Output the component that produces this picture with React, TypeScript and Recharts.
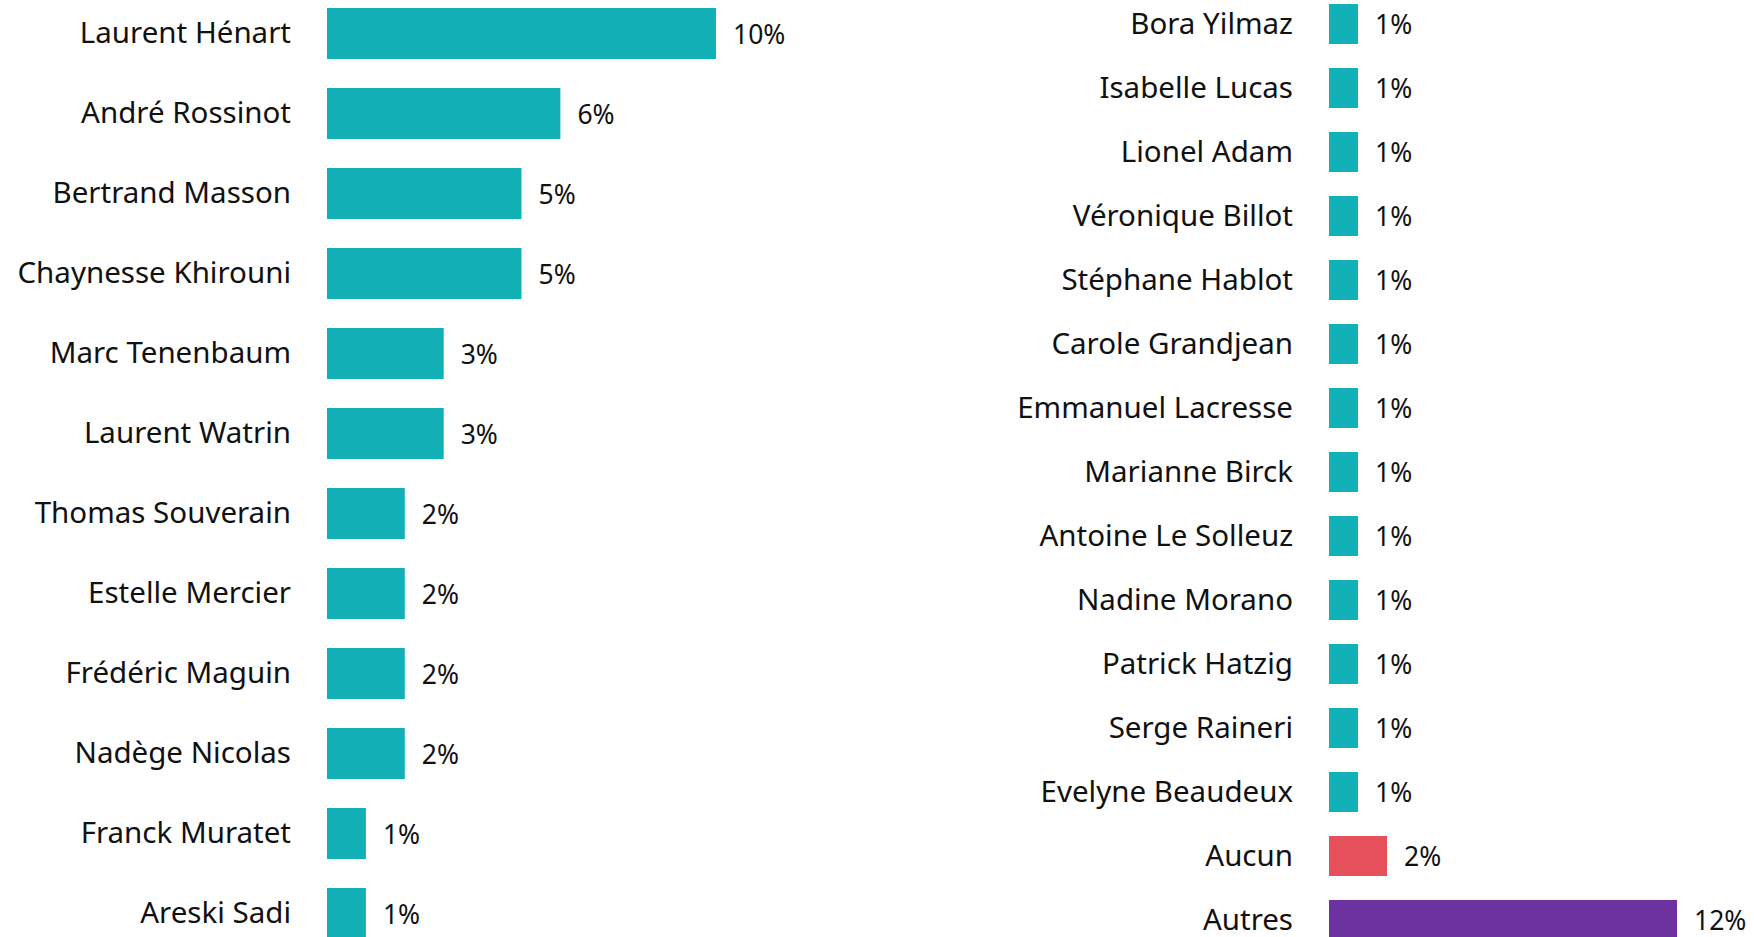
import React from 'react';
import { BarChart, Bar, XAxis, YAxis, LabelList, Cell } from 'recharts';

// Candidats (colonne de gauche)
const leftNames = [
  'Laurent Hénart',
  'André Rossinot',
  'Bertrand Masson',
  'Chaynesse Khirouni',
  'Marc Tenenbaum',
  'Laurent Watrin',
  'Thomas Souverain',
  'Estelle Mercier',
  'Frédéric Maguin',
  'Nadège Nicolas',
  'Franck Muratet',
  'Areski Sadi'
];
const leftValues = [10, 6, 5, 5, 3, 3, 2, 2, 2, 2, 1, 1];

// Candidats (colonne de droite)
const rightNames = [
  'Bora Yilmaz',
  'Isabelle Lucas',
  'Lionel Adam',
  'Véronique Billot',
  'Stéphane Hablot',
  'Carole Grandjean',
  'Emmanuel Lacresse',
  'Marianne Birck',
  'Antoine Le Solleuz',
  'Nadine Morano',
  'Patrick Hatzig',
  'Serge Raineri',
  'Evelyne Beaudeux',
  'Aucun',
  'Autres'
];
const rightValues = [1, 1, 1, 1, 1, 1, 1, 1, 1, 1, 1, 1, 1, 2, 12];

const TEAL = '#13B0B7';
const SPECIAL_COLORS: Record<string, string> = {
  Aucun: '#E6505A',
  Autres: '#6E31A0'
};

const FONT = '"Segoe UI", "Noto Sans", sans-serif';
const tickStyle = { fontSize: 29.5, fill: '#111', fontFamily: FONT };

const leftData = leftNames.map((name, i) => ({ name, value: leftValues[i] }));
const rightData = rightNames.map((name, i) => ({ name, value: rightValues[i] }));

interface PanelProps {
  data: { name: string; value: number }[];
  width: number;
  axisWidth: number;
  maxValue: number;
  barSize: number;
  rightMargin: number;
}

const Panel: React.FC<PanelProps> = ({ data, width, axisWidth, maxValue, barSize, rightMargin }) => (
  <BarChart
    width={width}
    height={960}
    data={data}
    layout="vertical"
    margin={{ top: 0, right: rightMargin, bottom: 0, left: 0 }}
  >
    <XAxis type="number" domain={[0, maxValue]} hide />
    <YAxis
      type="category"
      dataKey="name"
      width={axisWidth}
      interval={0}
      axisLine={false}
      tickLine={false}
      tickSize={0}
      tickMargin={36}
      tick={tickStyle}
    />
    <Bar dataKey="value" barSize={barSize} isAnimationActive={false}>
      {data.map((entry, index) => (
        <Cell key={`cell-${index}`} fill={SPECIAL_COLORS[entry.name] || TEAL} />
      ))}
      <LabelList
        dataKey="value"
        position="right"
        offset={17}
        dy={1}
        formatter={(v: number) => `${v}%`}
        style={{ fontSize: 26.5, fill: '#111', fontFamily: FONT }}
      />
    </Bar>
  </BarChart>
);

export default function App() {
  return (
    <div
      style={{
        position: 'absolute',
        left: 0,
        top: 0,
        width: 1754,
        height: 937,
        overflow: 'hidden',
        background: '#fff'
      }}
    >
      <div style={{ position: 'absolute', left: 0, top: -7 }}>
        <Panel data={leftData} width={820} axisWidth={327} maxValue={10} barSize={51} rightMargin={104} />
      </div>
      <div style={{ position: 'absolute', left: 880, top: -8 }}>
        <Panel data={rightData} width={874} axisWidth={449} maxValue={12} barSize={40} rightMargin={77} />
      </div>
    </div>
  );
}
